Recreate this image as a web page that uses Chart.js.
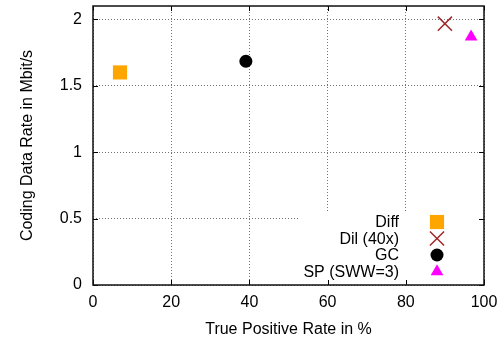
<!DOCTYPE html>
<html>
<head>
<meta charset="utf-8">
<script src="https://cdn.jsdelivr.net/npm/chart.js@4"></script>
<style>
  body { margin: 0; background: #fff; }
  #wrap { width: 504px; height: 339px; }
</style>
</head>
<body>
<div id="wrap"><canvas id="chart" width="504" height="339"></canvas></div>
<script>
// dados
const seriesNames = ['Diff', 'Dil (40x)', 'GC', 'SP (SWW=3)'];
const tprValues = [6.9, 90.0, 39.1, 96.7];
const rateValues = [1.60, 1.967, 1.684, 1.868];
const xTicks = [0, 20, 40, 60, 80, 100];
const yTicks = [0, 0.5, 1, 1.5, 2];

const styles = [
  { pointStyle: 'rect', radius: 10, backgroundColor: '#ffa500', borderColor: '#ffa500', borderWidth: 0 },
  { pointStyle: 'crossRot', radius: 10, backgroundColor: '#a0282a', borderColor: '#a0282a', borderWidth: 1.5 },
  { pointStyle: 'circle', radius: 6.5, backgroundColor: '#000', borderColor: '#000', borderWidth: 0 },
  { pointStyle: 'triangle', radius: 7.3, backgroundColor: '#ff00ff', borderColor: '#ff00ff', borderWidth: 0 }
];

const font = { family: 'Liberation Sans', size: 16 };

const datasets = seriesNames.map((name, i) => ({
  label: name,
  data: [{ x: tprValues[i], y: rateValues[i] }],
  pointStyle: styles[i].pointStyle,
  pointRadius: styles[i].radius,
  pointHoverRadius: styles[i].radius,
  pointBackgroundColor: styles[i].backgroundColor,
  pointBorderColor: styles[i].borderColor,
  pointBorderWidth: styles[i].borderWidth,
  showLine: false
}));

const noPadding = () => ({ left: 0, top: 0, right: 0, bottom: 0 });

// moldura, marcas internas e caixa da legenda
const framePlugin = {
  id: 'frame',
  beforeDatasetsDraw(chart) {
    const ctx = chart.ctx;
    const a = chart.chartArea;
    const xs = chart.scales.x, ys = chart.scales.y;
    ctx.save();
    // fundo branco da legenda
    ctx.fillStyle = '#fff';
    ctx.fillRect(300, 213, a.right - 300, a.bottom - 213);
    // marcas
    ctx.strokeStyle = '#000';
    ctx.lineWidth = 1;
    const tl = 5;
    ctx.beginPath();
    xTicks.forEach(v => {
      const px = Math.round(xs.getPixelForValue(v)) + 0.5;
      ctx.moveTo(px, a.bottom); ctx.lineTo(px, a.bottom - tl);
      ctx.moveTo(px, a.top); ctx.lineTo(px, a.top + tl);
    });
    yTicks.forEach(v => {
      const py = Math.round(ys.getPixelForValue(v)) + 0.5;
      ctx.moveTo(a.left, py); ctx.lineTo(a.left + tl, py);
      ctx.moveTo(a.right, py); ctx.lineTo(a.right - tl, py);
    });
    ctx.stroke();
    // borda
    ctx.lineWidth = 1.5;
    ctx.strokeStyle = '#111';
    ctx.strokeRect(a.left, a.top, a.right - a.left, a.bottom - a.top);
    ctx.restore();
  },
  afterDatasetsDraw(chart) {
    const ctx = chart.ctx;
    ctx.save();
    ctx.font = font.size + 'px ' + font.family;
    ctx.textAlign = 'right';
    ctx.textBaseline = 'middle';
    seriesNames.forEach((name, i) => {
      const y = 222 + i * 16.5;
      ctx.fillStyle = '#000';
      ctx.fillText(name, 399, y + 1);
      const s = styles[i];
      ctx.fillStyle = s.backgroundColor;
      ctx.strokeStyle = s.borderColor;
      ctx.lineWidth = s.borderWidth;
      Chart.helpers.drawPoint(ctx, { pointStyle: s.pointStyle, radius: s.radius, rotation: 0, borderWidth: s.borderWidth }, 437, y);
    });
    ctx.restore();
  }
};

new Chart(document.getElementById('chart'), {
  type: 'scatter',
  data: { datasets: datasets },
  options: {
    responsive: false,
    animation: false,
    layout: { autoPadding: false, padding: { left: 0, right: 20, top: 6, bottom: 0 } },
    plugins: { legend: { display: false }, tooltip: { enabled: false } },
    scales: {
      x: {
        type: 'linear',
        min: 0,
        max: 100,
        afterBuildTicks: scale => { scale.ticks = xTicks.map(v => ({ value: v })); },
        afterFit: scale => { scale.height = 54; scale.getPadding = noPadding; },
        grid: { color: 'rgba(0,0,0,0.55)', lineWidth: 1, drawTicks: false },
        border: { display: false, dash: [1, 2] },
        ticks: { font: font, color: '#000', padding: 8, maxRotation: 0, callback: v => String(v) },
        title: { display: true, text: 'True Positive Rate in %', font: font, color: '#000', padding: { top: 0, bottom: 0 } }
      },
      y: {
        type: 'linear',
        min: 0,
        max: 2.1,
        afterBuildTicks: scale => { scale.ticks = yTicks.map(v => ({ value: v })); },
        afterFit: scale => { scale.width = 93; scale.getPadding = noPadding; },
        grid: { color: 'rgba(0,0,0,0.55)', lineWidth: 1, drawTicks: false },
        border: { display: false, dash: [1, 2] },
        ticks: { font: font, color: '#000', padding: 11, callback: v => String(v) },
        title: { display: true, text: 'Coding Data Rate in Mbit/s', font: font, color: '#000', padding: { top: 18, bottom: 0 } }
      }
    }
  },
  plugins: [framePlugin]
});
</script>
</body>
</html>
